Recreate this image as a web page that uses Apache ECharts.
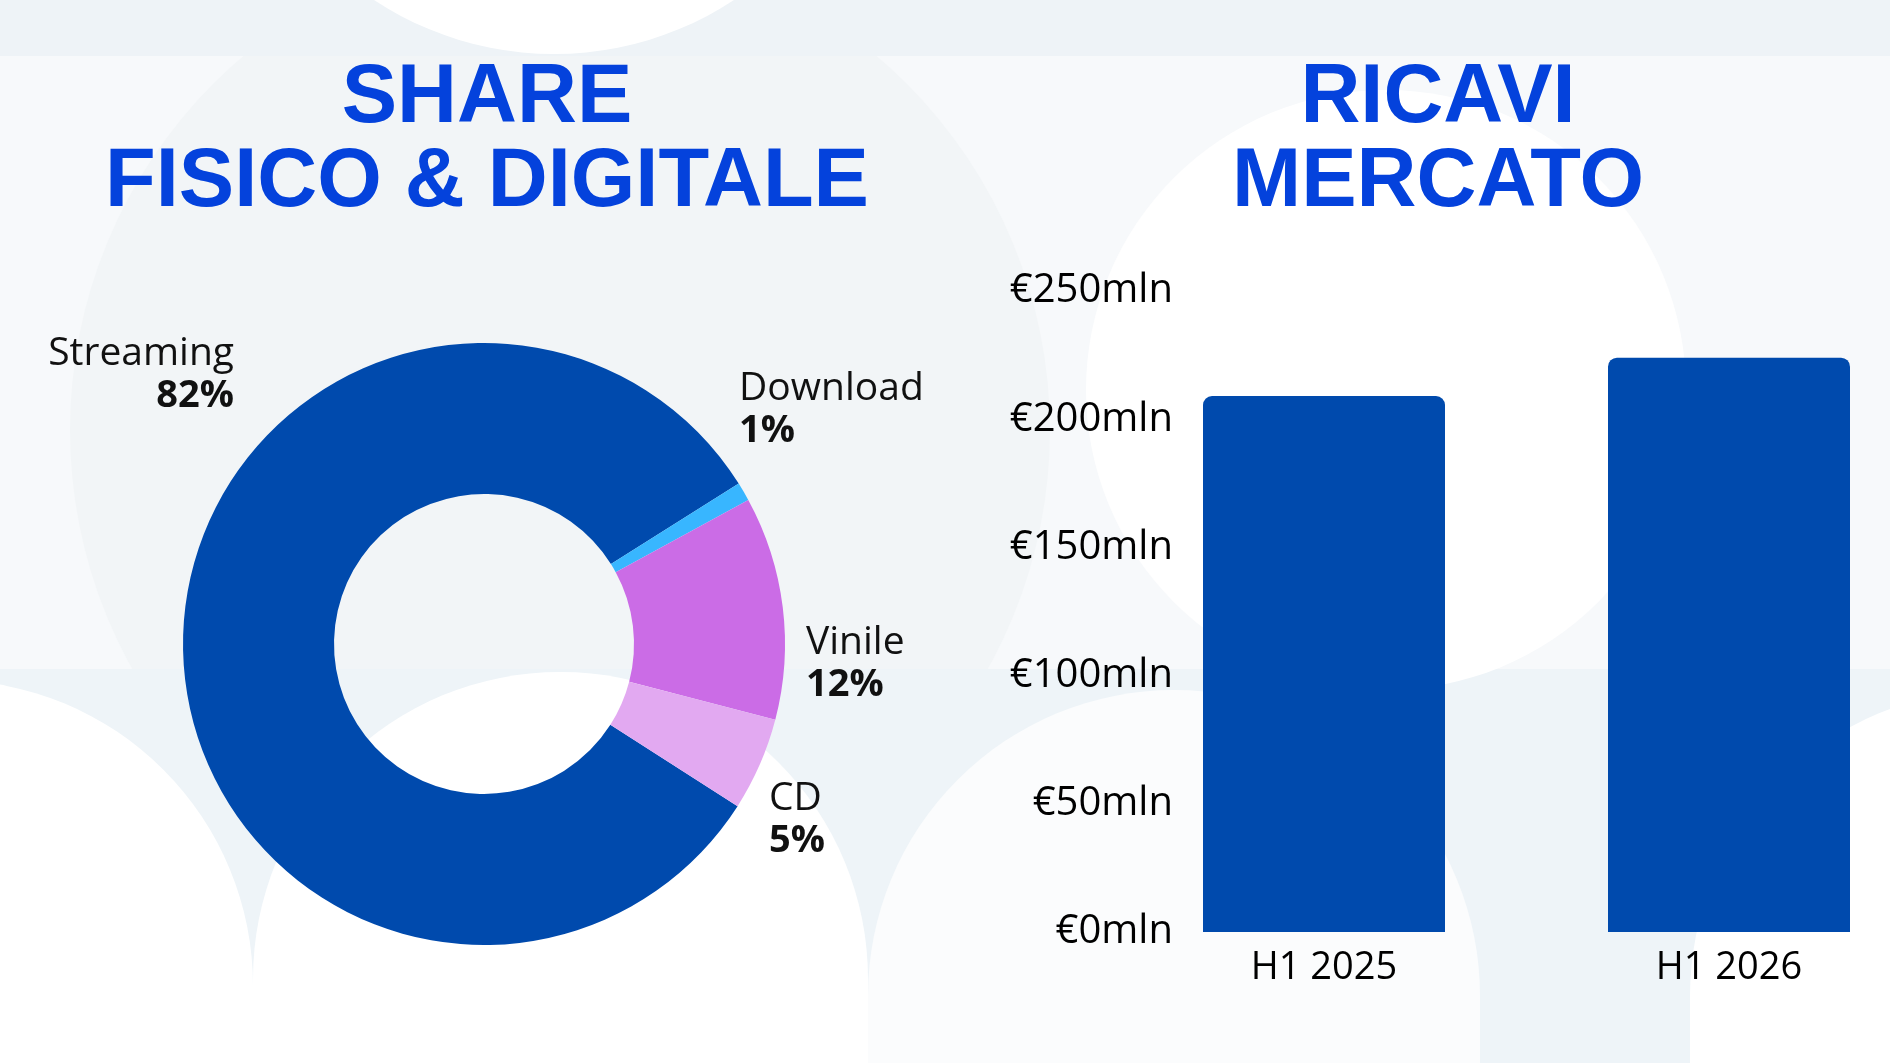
<!DOCTYPE html>
<html>
<head>
<meta charset="utf-8">
<title>Share fisico & digitale / Ricavi mercato</title>
<script src="https://cdn.jsdelivr.net/npm/echarts@6/dist/echarts.min.js"></script>
<style>
  html, body { margin: 0; padding: 0; background: #f7f9fb; }
  #main { width: 1890px; height: 1063px; }
</style>
</head>
<body>
<div id="main"></div>
<script>
// share per formato (%)
var shareNames = ['Streaming', 'Download', 'Vinile', 'CD'];
var shareValues = [82, 1, 12, 5];
var shareColors = ['#004aad', '#38b6ff', '#cb6ce6', '#e2a9f1'];

// ricavi mercato (milioni di euro)
var periods = ['H1 2025', 'H1 2026'];
var revenues = [209, 224];
var revTicks = [0, 50, 100, 150, 200, 250];

// where each donut label sits (x, y, align)
var labelSpots = [
    [234, 375, 'right'],
    [739, 410, 'left'],
    [806, 664, 'left'],
    [769, 820, 'left']
];

var chart = echarts.init(document.getElementById('main'));

var titleFont = '"Liberation Sans Narrow", "Liberation Sans", Arial, sans-serif';
var bodyFont = '"Open Sans", "Lato", sans-serif';

var pieData = shareNames.map(function (n, i) {
    return { name: n, value: shareValues[i], itemStyle: { color: shareColors[i] } };
});

var option = {
    backgroundColor: '#f7f9fb',
    animation: false,
    graphic: [
        // soft background shapes
        { type: 'circle', silent: true, z: -10, shape: { cx: 560, cy: 430, r: 490 }, style: { fill: '#f2f5f7' } },
        { type: 'rect', silent: true, z: -9, shape: { x: 0, y: 0, width: 1890, height: 56 }, style: { fill: '#eef3f7' } },
        { type: 'circle', silent: true, z: -8, shape: { cx: 554, cy: -273, r: 327 }, style: { fill: '#ffffff' } },
        { type: 'circle', silent: true, z: -8, shape: { cx: 1386, cy: 390, r: 300 }, style: { fill: '#ffffff' } },
        { type: 'rect', silent: true, z: -9, shape: { x: 0, y: 669, width: 1890, height: 400 }, style: { fill: '#eef4f8' } },
        { type: 'rect', silent: true, z: -8, shape: { x: 253, y: 672, width: 615, height: 800, r: 307 }, style: { fill: '#ffffff' } },
        { type: 'rect', silent: true, z: -8, shape: { x: -360, y: 680, width: 613, height: 800, r: 306 }, style: { fill: '#ffffff' } },
        { type: 'rect', silent: true, z: -8, shape: { x: 868, y: 690, width: 612, height: 800, r: 306 }, style: { fill: '#fbfcfd' } },
        { type: 'rect', silent: true, z: -8, shape: { x: 1690, y: 690, width: 612, height: 800, r: 306 }, style: { fill: '#ffffff' } }
    ],
    title: [
        {
            text: 'SHARE\nFISICO & DIGITALE',
            left: 482, top: 52,
            textAlign: 'center',
            textStyle: { fontFamily: titleFont, fontWeight: 'bold', fontSize: 83, lineHeight: 84, color: '#0442dc' }
        },
        {
            text: 'RICAVI\nMERCATO',
            left: 1433, top: 52,
            textAlign: 'center',
            textStyle: { fontFamily: titleFont, fontWeight: 'bold', fontSize: 83, lineHeight: 84, color: '#0442dc' }
        }
    ],
    grid: { left: 1121.5, width: 810, top: 291, height: 641, outerBoundsMode: 'none', containLabel: false },
    xAxis: {
        type: 'category',
        data: periods,
        axisLine: { show: false },
        axisTick: { show: false },
        axisLabel: { margin: 17, fontFamily: bodyFont, fontSize: 38, color: '#000' }
    },
    yAxis: {
        type: 'value',
        min: revTicks[0], max: revTicks[revTicks.length - 1], interval: 50,
        offset: -59.5,
        splitLine: { show: false },
        axisLine: { show: false },
        axisTick: { show: false },
        axisLabel: {
            margin: 8, fontFamily: bodyFont, fontSize: 40, color: '#000',
            formatter: function (v) { return '€' + v + 'mln'; }
        }
    },
    series: [
        {
            type: 'pie',
            center: [484, 644],
            radius: [150, 301],
            startAngle: 327.4,
            clockwise: true,
            avoidLabelOverlap: false,
            data: pieData,
            labelLine: { show: false },
            label: {
                show: true,
                position: 'outside',
                formatter: function (p) { return '{n|' + p.name + '}\n{p|' + p.value + '%}'; },
                rich: {
                    n: { fontFamily: bodyFont, fontSize: 39, lineHeight: 43, color: '#111' },
                    p: { fontFamily: bodyFont, fontSize: 38, lineHeight: 43, fontWeight: 'bold', color: '#111' }
                }
            },
            labelLayout: function (params) {
                var s = labelSpots[params.dataIndex];
                return { x: s[0], y: s[1], align: s[2], verticalAlign: 'middle' };
            },
            emphasis: { disabled: true }
        },
        {
            type: 'bar',
            data: revenues,
            barWidth: 242,
            itemStyle: { color: '#004aad', borderRadius: [9, 9, 0, 0] }
        }
    ]
};

chart.setOption(option);
</script>
</body>
</html>
